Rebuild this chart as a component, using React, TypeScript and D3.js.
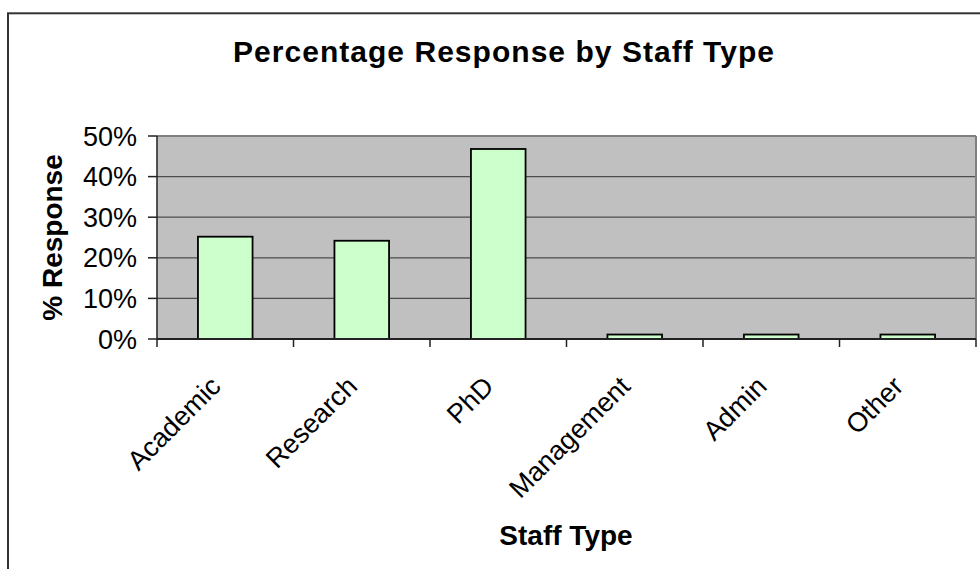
import React from "react";
import * as d3 from "d3";

// Survey response share by staff type
const categories = ["Academic", "Research", "PhD", "Management", "Admin", "Other"];
const responseShare = [0.252, 0.242, 0.468, 0.011, 0.011, 0.011];
const yTicks = [0, 0.1, 0.2, 0.3, 0.4, 0.5];

const chartTitle = "Percentage Response by Staff Type";
const xTitle = "Staff Type";
const yTitle = "% Response";

const W = 980;
const H = 569;
const plot = { left: 157, right: 976, top: 136, bottom: 339 };
const FONT = "Arial, 'Liberation Sans', Helvetica, sans-serif";

export default function App() {
  const x = d3
    .scaleBand<string>()
    .domain(categories)
    .range([plot.left, plot.right])
    .paddingInner(0.6)
    .paddingOuter(0.3);
  const y = d3.scaleLinear().domain([0, 0.5]).range([plot.bottom, plot.top]);
  const step = x.step();
  const pct = d3.format(".0%");
  const boundaries = d3.range(categories.length + 1).map((i) => plot.left + i * step);

  return (
    <svg
      width={W}
      height={H}
      style={{ position: "absolute", left: 0, top: 0, background: "#fff" }}
      fontFamily={FONT}
    >
      {/* chart frame */}
      <rect x={8} y={13.3} width={1000} height={600} fill="#fff" stroke="#333" strokeWidth={2} />

      <text
        x={503.5}
        y={62}
        textAnchor="middle"
        fontSize={30}
        fontWeight="bold"
        textLength={541}
        lengthAdjust="spacing"
      >
        {chartTitle}
      </text>

      {/* plot area */}
      <rect
        x={plot.left}
        y={plot.top}
        width={plot.right - plot.left}
        height={plot.bottom - plot.top}
        fill="#C0C0C0"
      />
      {yTicks
        .filter((t) => t > 0 && t < 0.5)
        .map((t) => (
          <line
            key={`g${t}`}
            x1={plot.left}
            x2={plot.right}
            y1={y(t)}
            y2={y(t)}
            stroke="#4d4d4d"
            strokeWidth={1.2}
          />
        ))}
      <line x1={plot.left} x2={plot.right} y1={plot.top} y2={plot.top} stroke="#808080" strokeWidth={2} />
      <line x1={plot.right} x2={plot.right} y1={plot.top} y2={plot.bottom} stroke="#808080" strokeWidth={2} />

      {/* bars */}
      {categories.map((c, i) => (
        <rect
          key={c}
          x={x(c)}
          y={y(responseShare[i])}
          width={x.bandwidth()}
          height={y(0) - y(responseShare[i])}
          fill="#CCFFCC"
          stroke="#000"
          strokeWidth={1.8}
        />
      ))}

      {/* y axis */}
      <line x1={plot.left} x2={plot.left} y1={plot.top} y2={plot.bottom} stroke="#222" strokeWidth={1.5} />
      {yTicks.map((t) => (
        <g key={`y${t}`}>
          <line x1={plot.left - 9} x2={plot.left} y1={y(t)} y2={y(t)} stroke="#222" strokeWidth={1.5} />
          <text x={plot.left - 20} y={y(t) + 9.6} textAnchor="end" fontSize={27}>
            {pct(t)}
          </text>
        </g>
      ))}

      {/* x axis */}
      <line x1={plot.left} x2={plot.right} y1={plot.bottom} y2={plot.bottom} stroke="#222" strokeWidth={2} />
      {boundaries.map((bx, i) => (
        <line key={`t${i}`} x1={bx} x2={bx} y1={plot.bottom} y2={plot.bottom + 8} stroke="#222" strokeWidth={1.5} />
      ))}
      {categories.map((c) => {
        const cx = (x(c) as number) + x.bandwidth() / 2;
        return (
          <text
            key={`l${c}`}
            transform={`translate(${cx - 3},${plot.bottom + 49}) rotate(-45)`}
            textAnchor="end"
            fontSize={27}
          >
            {c}
          </text>
        );
      })}

      <text x={566} y={545} textAnchor="middle" fontSize={28} fontWeight="bold">
        {xTitle}
      </text>
      <text
        transform={`translate(62,${(plot.top + plot.bottom) / 2}) rotate(-90)`}
        textAnchor="middle"
        fontSize={28}
        fontWeight="bold"
      >
        {yTitle}
      </text>
    </svg>
  );
}
